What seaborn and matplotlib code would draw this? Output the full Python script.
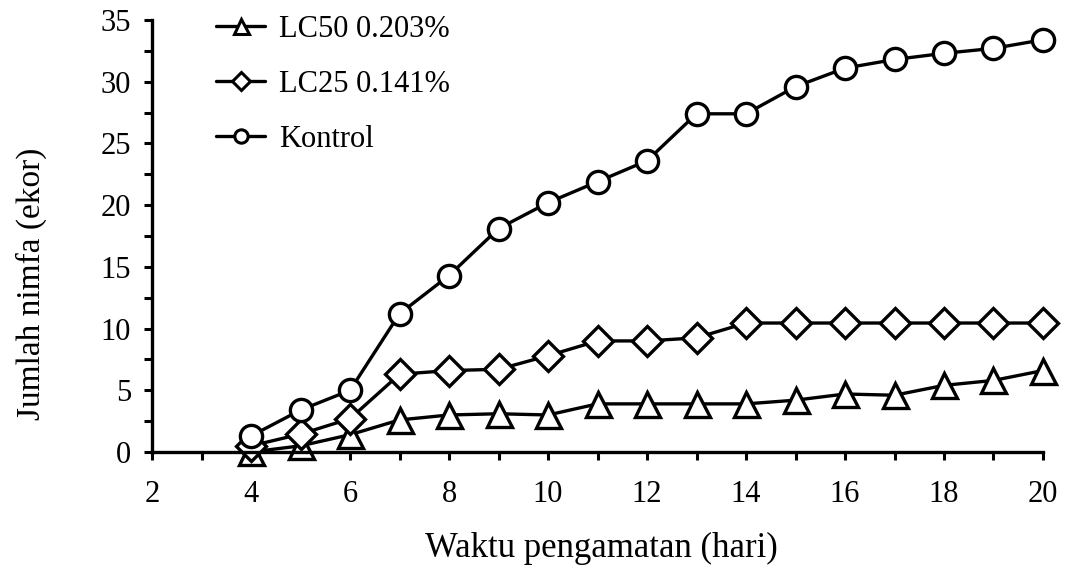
import matplotlib
matplotlib.use("Agg")
import matplotlib.pyplot as plt
from matplotlib.ticker import MultipleLocator
import seaborn as sns
import pandas as pd

# ===================== DATOS =====================

hari = [4, 5, 6, 7, 8, 9, 10, 11, 12, 13, 14, 15, 16, 17, 18, 19, 20]
lc50 = [0.0, 0.5, 1.4, 2.6, 3.0, 3.1, 3.0, 3.9, 3.9, 3.9, 3.9, 4.2, 4.7, 4.6, 5.4, 5.8, 6.6]
lc25 = [0.5, 1.45, 2.7, 6.3, 6.6, 6.7, 7.8, 9.0, 9.0, 9.25, 10.45, 10.45, 10.45, 10.45, 10.45, 10.45, 10.45]
kontrol = [1.3, 3.4, 5.0, 11.2, 14.3, 18.1, 20.2, 21.9, 23.6, 27.4, 27.4, 29.6, 31.1, 31.8, 32.3, 32.7, 33.4]

grupos = ["LC50 0.203%", "LC25 0.141%", "Kontrol"]

df = pd.DataFrame({
    "hari": hari * 3,
    "nimfa": lc50 + lc25 + kontrol,
    "grupo": [grupos[0]] * len(hari) + [grupos[1]] * len(hari) + [grupos[2]] * len(hari),
})

# ===================== FIGURA =====================

sns.set_style("ticks")
plt.rcParams["font.family"] = ["Liberation Serif", "DejaVu Serif"]
plt.rcParams["text.color"] = "black"
plt.rcParams["axes.labelcolor"] = "black"
plt.rcParams["xtick.color"] = "black"
plt.rcParams["ytick.color"] = "black"

fig = plt.figure(figsize=(10.67, 5.68), dpi=100)
ax = fig.add_axes([0.1425, 0.2042, 0.835, 0.7606])

sns.lineplot(
    data=df, x="hari", y="nimfa",
    hue="grupo", style="grupo",
    hue_order=grupos, style_order=grupos,
    palette=["black"] * 3,
    markers={grupos[0]: "^", grupos[1]: "D", grupos[2]: "o"},
    dashes=False,
    markersize=16,
    markerfacecolor="white",
    markeredgecolor="black",
    markeredgewidth=2.4,
    linewidth=2.4,
    clip_on=False,
    ax=ax,
)

# ajustar tamaño de cada marcador
for ln in ax.lines:
    if ln.get_marker() == "D":
        ln.set_markersize(15)
    elif ln.get_marker() == "^":
        ln.set_markersize(18)

ax.set_xlim(2, 20)
ax.set_ylim(0, 35)
ax.xaxis.set_major_locator(MultipleLocator(2))
ax.xaxis.set_minor_locator(MultipleLocator(1))
ax.yaxis.set_major_locator(MultipleLocator(5))
ax.yaxis.set_minor_locator(MultipleLocator(2.5))

ax.tick_params(which="both", direction="out", width=2.2, length=6, color="black")
ax.tick_params(axis="x", which="major", labelsize=22, pad=14)
ax.tick_params(axis="y", which="major", labelsize=22, pad=9)

for s in ("left", "bottom"):
    ax.spines[s].set_linewidth(2.4)
    ax.spines[s].set_color("black")
sns.despine(ax=ax)

ax.set_xlabel("Waktu pengamatan (hari)", fontsize=25)
ax.set_ylabel("Jumlah nimfa (ekor)", fontsize=24)
ax.xaxis.set_label_coords(0.504, -0.185)
ax.yaxis.set_label_coords(-0.118, 0.389)

leg = ax.legend(
    loc="upper left", bbox_to_anchor=(0.041, 1.075),
    frameon=False, fontsize=22, markerscale=0.6,
    handlelength=1.6, handletextpad=0.45, labelspacing=0.85,
)
for h in leg.legend_handles:
    h.set_markeredgewidth(2.2)

fig.savefig("out.png", dpi=100)
